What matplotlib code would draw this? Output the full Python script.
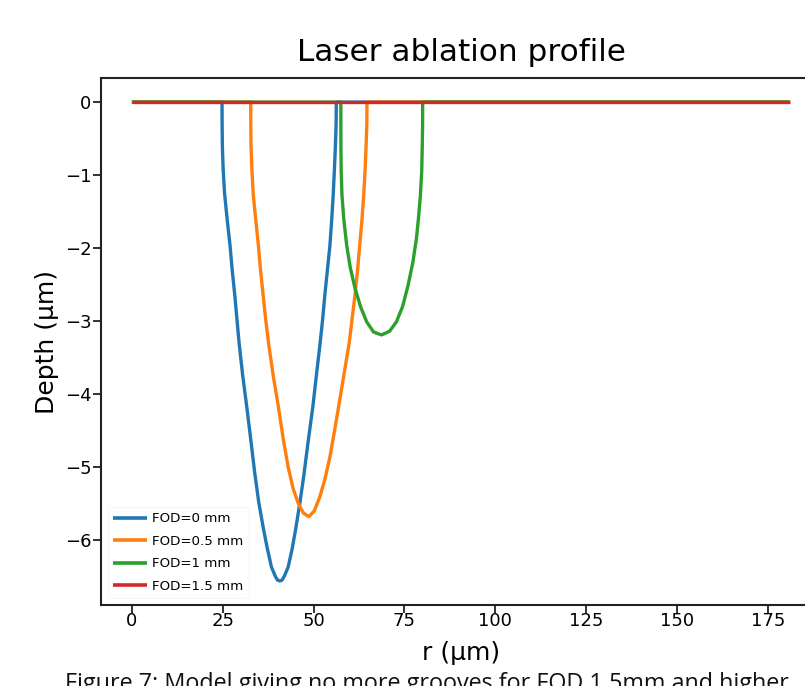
import matplotlib
matplotlib.use("Agg")
import matplotlib.pyplot as plt

# ---- data ----
r_fod0 = [0, 24.8, 24.83, 24.9, 25.1, 25.5, 26.2, 27.0, 27.6, 28.3, 28.9, 29.5, 30.5,
          31.6, 32.7, 33.8, 34.9, 36.1, 37.2, 38.4, 39.5, 40.1, 40.7, 41.3, 42.0,
          43.0, 44.1, 45.1, 46.2, 47.3, 48.5, 49.8, 50.8, 51.8, 52.5, 53.1, 53.8,
          54.5, 55.0, 55.4, 55.75, 56.0, 56.2, 56.25, 181]
d_fod0 = [0, 0, -0.3, -0.6, -0.9, -1.25, -1.6, -1.96, -2.3, -2.64, -2.97, -3.3, -3.75,
          -4.17, -4.62, -5.08, -5.48, -5.82, -6.1, -6.37, -6.5, -6.55, -6.56, -6.55, -6.49,
          -6.37, -6.12, -5.84, -5.5, -5.12, -4.65, -4.17, -3.73, -3.3, -2.97, -2.64, -2.3,
          -1.96, -1.6, -1.27, -0.9, -0.6, -0.3, 0, 0]

r_fod05 = [0, 32.7, 32.72, 32.78, 33.0, 33.4, 34.1, 34.8, 35.4, 36.1, 36.8, 37.6, 38.9,
           40.3, 41.6, 43.0, 44.4, 45.8, 47.2, 48.7, 50.2, 51.7, 53.1, 54.5, 55.7,
           56.9, 57.8, 58.7, 59.8, 60.6, 61.4, 62.1, 62.7, 63.3, 63.8, 64.2, 64.45,
           64.65, 64.7, 181]
d_fod05 = [0, 0, -0.3, -0.6, -0.9, -1.27, -1.62, -1.96, -2.3, -2.64, -2.97, -3.3, -3.75,
           -4.17, -4.6, -5.0, -5.3, -5.5, -5.63, -5.68, -5.6, -5.41, -5.17, -4.86, -4.52,
           -4.17, -3.9, -3.63, -3.3, -2.97, -2.64, -2.3, -1.96, -1.62, -1.27, -0.9, -0.6,
           -0.3, 0, 0]

r_fod1 = [0, 57.5, 57.5, 57.52, 57.6, 57.8, 58.3, 59.1, 60.1, 61.4, 62.9, 64.6, 66.5,
          68.7, 70.9, 72.8, 74.5, 76.0, 77.3, 78.3, 78.9, 79.4, 79.75, 79.9, 80.0,
          80.0, 181]
d_fod1 = [0, 0, -0.3, -0.6, -0.95, -1.27, -1.6, -1.96, -2.27, -2.55, -2.8, -3.01, -3.15,
          -3.19, -3.14, -3.01, -2.8, -2.51, -2.2, -1.87, -1.57, -1.27, -0.95, -0.6, -0.3,
          0, 0]

r_fod15 = [0, 181]
d_fod15 = [0, 0]

labels = ["FOD=0 mm", "FOD=0.5 mm", "FOD=1 mm", "FOD=1.5 mm"]
colors = ["#1f77b4", "#ff7f0e", "#2ca02c", "#d62728"]
xticks = [0, 25, 50, 75, 100, 125, 150, 175]
yticks = [0, -1, -2, -3, -4, -5, -6]

# ---- figure ----
fig = plt.figure(figsize=(8.05, 6.86), dpi=100)
W, H = 805, 686
left_px, right_px, top_px, bottom_px = 101, 822, 78, 605
ax = fig.add_axes([left_px / W, 1 - bottom_px / H,
                   (right_px - left_px) / W, (bottom_px - top_px) / H])

series = [(r_fod0, d_fod0), (r_fod05, d_fod05), (r_fod1, d_fod1), (r_fod15, d_fod15)]
for (x, y), lab, c in zip(series, labels, colors):
    ax.plot(x, y, color=c, lw=2.4, label=lab, solid_capstyle="butt",
            solid_joinstyle="round")

ax.set_xlim(-8.5, 189.9)
ax.set_ylim(-6.89, 0.33)
ax.set_xticks(xticks)
ax.set_yticks(yticks)
ax.set_yticklabels(["\u2212" + str(-t) if t < 0 else str(t) for t in yticks])

ax.tick_params(axis="both", labelsize=13, length=6, width=1.3, color="#222222")
ax.tick_params(axis="x", pad=-1)
ax.tick_params(axis="y", pad=1)
for s in ax.spines.values():
    s.set_linewidth(1.5)
    s.set_color("#222222")

ax.set_title("Laser ablation profile", fontsize=22.4, pad=12)
ax.set_xlabel("r (\u00b5m)", fontsize=18, labelpad=8)
ax.set_ylabel("Depth (\u00b5m)", fontsize=18, labelpad=4)

leg = ax.legend(loc="lower left", fontsize=9.6, handlelength=2.55, handletextpad=0.4,
                labelspacing=0.72, frameon=True, borderaxespad=0.5)
leg.get_frame().set_edgecolor("#f6f6f6")
leg.get_frame().set_linewidth(0.8)
for h in leg.get_lines():
    h.set_linewidth(2.6)

fig.text(65 / W, 1 - 672 / H, "Figure 7: Model giving no more grooves for FOD 1.5mm and higher",
         fontsize=16.8, family="Open Sans", va="top", ha="left", color="#111111")

fig.savefig("out.png", dpi=100)
